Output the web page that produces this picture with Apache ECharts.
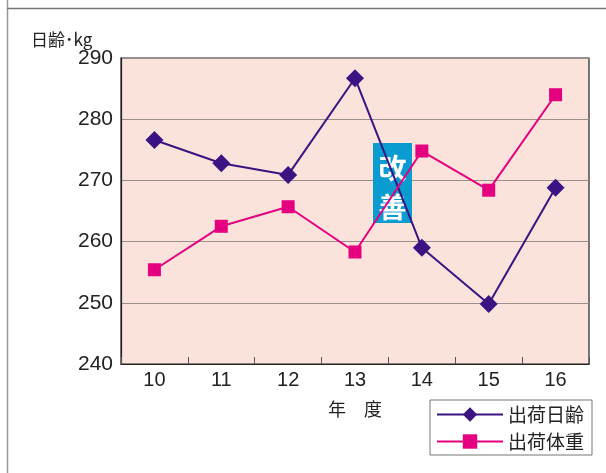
<!DOCTYPE html>
<html><head><meta charset="utf-8">
<script src="https://cdn.jsdelivr.net/npm/echarts@6/dist/echarts.min.js"></script>
<style>html,body{margin:0;padding:0;background:#fff}#c{width:606px;height:473px}</style>
</head><body><div id="c"></div>
<script>
var categories = ['10','11','12','13','14','15','16'];
var shipAge = [276.6, 272.8, 270.9, 286.7, 259.0, 249.8, 268.8];
var shipWeight = [255.4, 262.5, 265.7, 258.3, 274.8, 268.4, 284.0];
var seriesNames = ['出荷日齢','出荷体重'];
var yTicks = {min: 240, max: 290, interval: 10};

var FONT = '"Liberation Sans", "Noto Sans CJK JP", sans-serif';
var JFONT = '"Noto Sans CJK JP", sans-serif';
var chart = echarts.init(document.getElementById('c'), null, {renderer: 'canvas'});
chart.setOption({
  animation: false,
  backgroundColor: '#fff',
  grid: {left: 121, top: 58, width: 468, height: 306, show: true,
         backgroundColor: '#fbe2da', borderColor: '#222', borderWidth: 1.2},
  xAxis: {
    type: 'category', data: categories, boundaryGap: true,
    name: '年　度', nameLocation: 'middle', nameGap: 36,
    nameTextStyle: {fontFamily: JFONT, fontSize: 18, color: '#222'},
    axisLine: {lineStyle: {color: '#222', width: 1.2}},
    axisTick: {show: true, inside: true, length: 7, lineStyle: {color: '#555'}},
    axisLabel: {fontFamily: FONT, fontSize: 20, color: '#222', margin: 6},
    splitLine: {show: false}
  },
  yAxis: {
    type: 'value', min: yTicks.min, max: yTicks.max, interval: yTicks.interval,
    name: '日齢･kg', nameLocation: 'end', nameGap: 10,
    nameTextStyle: {fontFamily: JFONT, fontSize: 17, color: '#222', align: 'left', padding: [0,0,0,-90]},
    axisLine: {show: true, lineStyle: {color: '#222', width: 1.2}},
    axisTick: {show: false},
    axisLabel: {fontFamily: FONT, fontSize: 21, color: '#222', margin: 8},
    splitLine: {show: true, lineStyle: {color: '#9a8f8a', width: 1.2}}
  },
  legend: {
    orient: 'vertical', left: 430, top: 400, width: 158,
    backgroundColor: '#fff', borderColor: '#777', borderWidth: 1,
    padding: [5, 8, 4, 6], itemGap: 8, itemWidth: 66, itemHeight: 18,
    textStyle: {fontFamily: JFONT, fontSize: 19, color: '#222'},
    data: seriesNames
  },
  graphic: [
    {type: 'line', shape: {x1: 7.5, y1: 0, x2: 7.5, y2: 473}, style: {stroke: '#999', lineWidth: 1.5}, z: 0},
    {type: 'line', shape: {x1: 7, y1: 8.5, x2: 606, y2: 8.5}, style: {stroke: '#777', lineWidth: 1.5}, z: 0},
    {type: 'rect', shape: {x: 373, y: 143, width: 39, height: 80}, style: {fill: '#0a9bd0'}, z: 1},
    {type: 'text', x: 392.5, y: 168, style: {text: '改', fill: '#fff', font: 'bold 28px "Noto Sans CJK JP"', align: 'center', verticalAlign: 'middle'}, z: 1},
    {type: 'text', x: 392.5, y: 207, style: {text: '善', fill: '#fff', font: 'bold 28px "Noto Sans CJK JP"', align: 'center', verticalAlign: 'middle'}, z: 1}
  ],
  series: [
    {name: seriesNames[0], type: 'line', data: shipAge, symbol: 'diamond', symbolSize: 18,
     z: 5, color: '#3b1382', lineStyle: {width: 2, color: '#3b1382'}, itemStyle: {color: '#3b1382'}},
    {name: seriesNames[1], type: 'line', data: shipWeight, symbol: 'rect', symbolSize: 13,
     z: 5, color: '#e4007f', lineStyle: {width: 2, color: '#e4007f'}, itemStyle: {color: '#e4007f'}}
  ]
});
</script></body></html>
